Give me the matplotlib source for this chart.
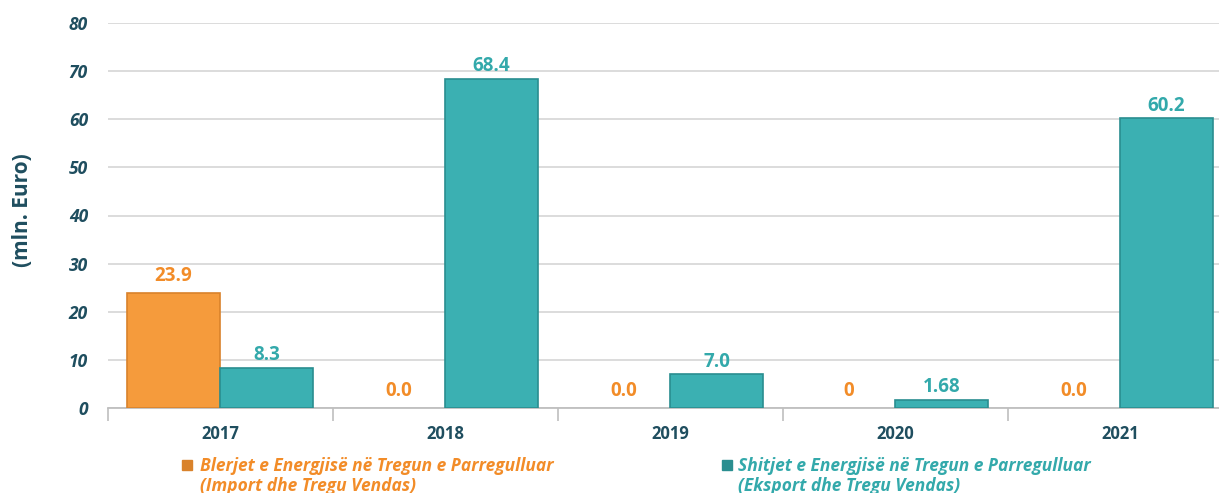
import matplotlib
matplotlib.use("Agg")
import matplotlib.pyplot as plt
import numpy as np

years = ["2017", "2018", "2019", "2020", "2021"]
import_vals = [23.9, 0.0, 0.0, 0.0, 0.0]
export_vals = [8.3, 68.4, 7.0, 1.68, 60.2]
import_labels = ["23.9", "0.0", "0.0", "0", "0.0"]
export_labels = ["8.3", "68.4", "7.0", "1.68", "60.2"]
yticks = [0, 10, 20, 30, 40, 50, 60, 70, 80]
legend_import = "Blerjet e Energjisë në Tregun e Parregulluar\n(Import dhe Tregu Vendas)"
legend_export = "Shitjet e Energjisë në Tregun e Parregulluar\n(Eksport dhe Tregu Vendas)"
ylabel = "(mln. Euro)"

plt.rcParams['font.family'] = ['Open Sans', 'DejaVu Sans']

orange = "#F59B3C"
orange_edge = "#D9822B"
teal = "#3BB0B2"
teal_edge = "#2A8E90"
orange_txt = "#F28C28"
teal_txt = "#33A9AB"
dark = "#1F4E5F"

fig = plt.figure(figsize=(12.19, 4.93), dpi=100)
ax = fig.add_axes([107.5/1219, 85/493, 1125/1219, 385/493])

x = np.arange(len(years))
w = 0.413
b1 = ax.bar(x - w/2, import_vals, w, color=orange, edgecolor=orange_edge,
            linewidth=[1.2 if v > 0 else 0 for v in import_vals], zorder=3)
b2 = ax.bar(x + w/2, export_vals, w, color=teal, edgecolor=teal_edge,
            linewidth=[1.2 if v > 0 else 0 for v in export_vals], zorder=3)

for xi, v, lab in zip(x, import_vals, import_labels):
    ax.annotate(lab, (xi - w/2, v), xytext=(0, 5), textcoords="offset points",
                ha="center", va="bottom", color=orange_txt, fontsize=13.5, fontweight="bold")
for xi, v, lab in zip(x, export_vals, export_labels):
    ax.annotate(lab, (xi + w/2, v), xytext=(0, 2), textcoords="offset points",
                ha="center", va="bottom", color=teal_txt, fontsize=13.5, fontweight="bold")

ax.set_ylim(0, 80)
ax.set_xlim(-0.5, len(years) - 0.5)
ax.set_yticks(yticks)
ax.set_yticklabels([str(t) for t in yticks], fontsize=12.5, fontweight="bold",
                   fontstyle="italic", color=dark)
ax.tick_params(axis="y", length=0, pad=14)
ax.set_xticks(x)
ax.set_xticklabels(years, fontsize=12, fontweight="bold", color=dark)
ax.tick_params(axis="x", length=0, pad=12)
ax.set_xticks(np.arange(-0.5, len(years)), minor=True)
ax.tick_params(axis="x", which="minor", length=9, color="#BFBFBF", width=1.2)

ax.grid(axis="y", color="#D9D9D9", linewidth=1.3, zorder=0)
for s in ["top", "right", "left"]:
    ax.spines[s].set_visible(False)
ax.spines["bottom"].set_color("#BFBFBF")
ax.spines["bottom"].set_linewidth(1.3)

fig.text(22/1219, 1 - 210/493, ylabel, rotation=90, ha="center", va="center",
         fontsize=15, fontweight="bold", color=dark)

# legend
fig.patches.append(plt.Rectangle((182/1219, 1 - 470/493), 10/1219, 10/493,
                                 transform=fig.transFigure, color=orange_edge, figure=fig))
fig.text(200/1219, 1 - 476/493, legend_import, ha="left", va="center", fontsize=12.5,
         fontweight="bold", fontstyle="italic", color=orange_txt, linespacing=1.2)
fig.patches.append(plt.Rectangle((722/1219, 1 - 470/493), 10/1219, 10/493,
                                 transform=fig.transFigure, color=teal_edge, figure=fig))
fig.text(738/1219, 1 - 476/493, legend_export, ha="left", va="center", fontsize=12.5,
         fontweight="bold", fontstyle="italic", color=teal_txt, linespacing=1.2)

fig.savefig("out.png", dpi=100)
